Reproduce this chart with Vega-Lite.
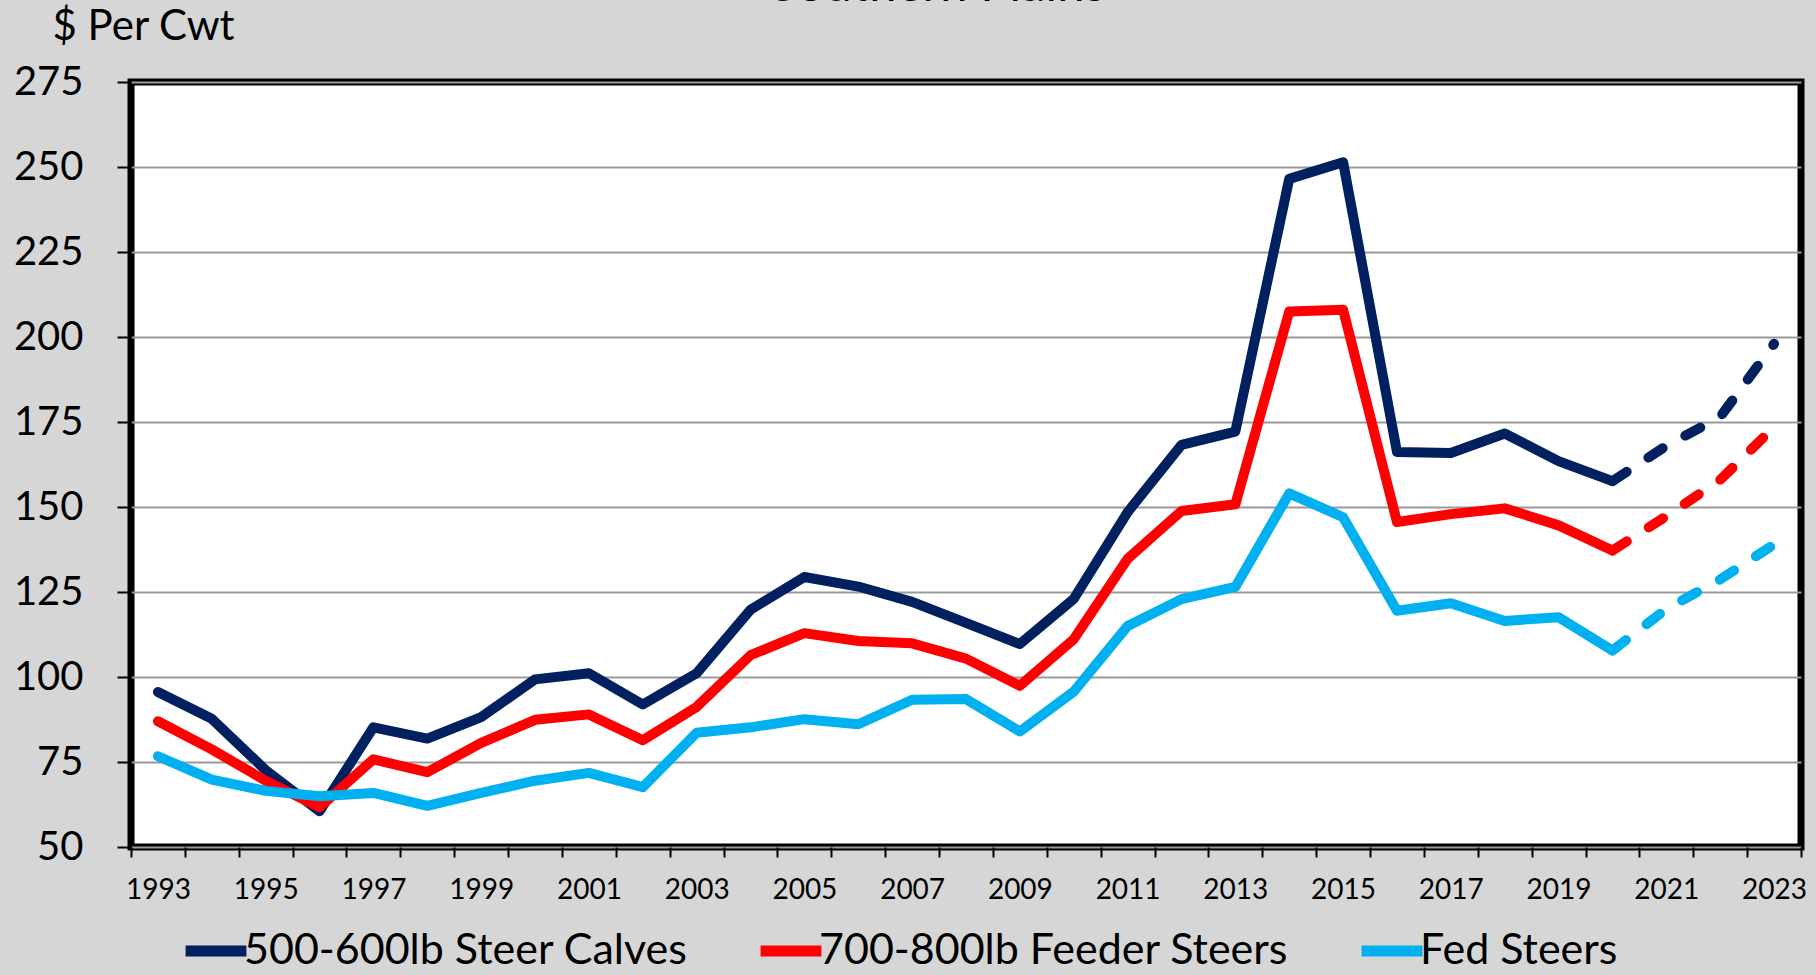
{
  "$schema": "https://vega.github.io/schema/vega-lite/v6.json",
  "width": 1670,
  "height": 765,
  "autosize": {"type": "none"},
  "padding": {"left": 131, "top": 82, "right": 15, "bottom": 128},
  "background": "#d6d6d6",
  "title": {"text": "Southern Plains", "font": "Lato", "fontSize": 49, "fontWeight": "normal", "color": "black", "anchor": "middle", "frame": "group", "baseline": "alphabetic", "offset": -45, "dx": -28},
  "config": {"view": {"stroke": "black", "strokeWidth": 7, "fill": "white"}, "font": "Lato"},
  "data": {"values": [
    {"year": 1993, "series": "500-600lb Steer Calves", "value": 95.6},
    {"year": 1994, "series": "500-600lb Steer Calves", "value": 87.7},
    {"year": 1995, "series": "500-600lb Steer Calves", "value": 72.6},
    {"year": 1996, "series": "500-600lb Steer Calves", "value": 60.5},
    {"year": 1997, "series": "500-600lb Steer Calves", "value": 85.2},
    {"year": 1998, "series": "500-600lb Steer Calves", "value": 81.9},
    {"year": 1999, "series": "500-600lb Steer Calves", "value": 88.2},
    {"year": 2000, "series": "500-600lb Steer Calves", "value": 99.3},
    {"year": 2001, "series": "500-600lb Steer Calves", "value": 101.1},
    {"year": 2002, "series": "500-600lb Steer Calves", "value": 91.9},
    {"year": 2003, "series": "500-600lb Steer Calves", "value": 101.1},
    {"year": 2004, "series": "500-600lb Steer Calves", "value": 119.8},
    {"year": 2005, "series": "500-600lb Steer Calves", "value": 129.4},
    {"year": 2006, "series": "500-600lb Steer Calves", "value": 126.6},
    {"year": 2007, "series": "500-600lb Steer Calves", "value": 122.1},
    {"year": 2008, "series": "500-600lb Steer Calves", "value": 115.9},
    {"year": 2009, "series": "500-600lb Steer Calves", "value": 109.7},
    {"year": 2010, "series": "500-600lb Steer Calves", "value": 123.0},
    {"year": 2011, "series": "500-600lb Steer Calves", "value": 148.5},
    {"year": 2012, "series": "500-600lb Steer Calves", "value": 168.3},
    {"year": 2013, "series": "500-600lb Steer Calves", "value": 172.2},
    {"year": 2014, "series": "500-600lb Steer Calves", "value": 246.5},
    {"year": 2015, "series": "500-600lb Steer Calves", "value": 251.4},
    {"year": 2016, "series": "500-600lb Steer Calves", "value": 166.2},
    {"year": 2017, "series": "500-600lb Steer Calves", "value": 165.9},
    {"year": 2018, "series": "500-600lb Steer Calves", "value": 171.6},
    {"year": 2019, "series": "500-600lb Steer Calves", "value": 163.5},
    {"year": 2020, "series": "500-600lb Steer Calves", "value": 157.6},
    {"year": 2021, "series": "500-600lb Steer Calves", "value": 168.0},
    {"year": 2022, "series": "500-600lb Steer Calves", "value": 176.5},
    {"year": 2023, "series": "500-600lb Steer Calves", "value": 198.0},
    {"year": 1993, "series": "700-800lb Feeder Steers", "value": 87.0},
    {"year": 1994, "series": "700-800lb Feeder Steers", "value": 78.7},
    {"year": 1995, "series": "700-800lb Feeder Steers", "value": 69.5},
    {"year": 1996, "series": "700-800lb Feeder Steers", "value": 61.7},
    {"year": 1997, "series": "700-800lb Feeder Steers", "value": 75.8},
    {"year": 1998, "series": "700-800lb Feeder Steers", "value": 72.0},
    {"year": 1999, "series": "700-800lb Feeder Steers", "value": 80.6},
    {"year": 2000, "series": "700-800lb Feeder Steers", "value": 87.4},
    {"year": 2001, "series": "700-800lb Feeder Steers", "value": 89.0},
    {"year": 2002, "series": "700-800lb Feeder Steers", "value": 81.4},
    {"year": 2003, "series": "700-800lb Feeder Steers", "value": 91.2},
    {"year": 2004, "series": "700-800lb Feeder Steers", "value": 106.4},
    {"year": 2005, "series": "700-800lb Feeder Steers", "value": 112.9},
    {"year": 2006, "series": "700-800lb Feeder Steers", "value": 110.6},
    {"year": 2007, "series": "700-800lb Feeder Steers", "value": 109.9},
    {"year": 2008, "series": "700-800lb Feeder Steers", "value": 105.4},
    {"year": 2009, "series": "700-800lb Feeder Steers", "value": 97.4},
    {"year": 2010, "series": "700-800lb Feeder Steers", "value": 111.1},
    {"year": 2011, "series": "700-800lb Feeder Steers", "value": 134.8},
    {"year": 2012, "series": "700-800lb Feeder Steers", "value": 148.8},
    {"year": 2013, "series": "700-800lb Feeder Steers", "value": 150.8},
    {"year": 2014, "series": "700-800lb Feeder Steers", "value": 207.5},
    {"year": 2015, "series": "700-800lb Feeder Steers", "value": 208.0},
    {"year": 2016, "series": "700-800lb Feeder Steers", "value": 145.6},
    {"year": 2017, "series": "700-800lb Feeder Steers", "value": 147.9},
    {"year": 2018, "series": "700-800lb Feeder Steers", "value": 149.6},
    {"year": 2019, "series": "700-800lb Feeder Steers", "value": 144.6},
    {"year": 2020, "series": "700-800lb Feeder Steers", "value": 137.2},
    {"year": 2021, "series": "700-800lb Feeder Steers", "value": 147.3},
    {"year": 2022, "series": "700-800lb Feeder Steers", "value": 158.0},
    {"year": 2023, "series": "700-800lb Feeder Steers", "value": 173.5},
    {"year": 1993, "series": "Fed Steers", "value": 76.7},
    {"year": 1994, "series": "Fed Steers", "value": 69.8},
    {"year": 1995, "series": "Fed Steers", "value": 66.5},
    {"year": 1996, "series": "Fed Steers", "value": 64.9},
    {"year": 1997, "series": "Fed Steers", "value": 65.9},
    {"year": 1998, "series": "Fed Steers", "value": 62.1},
    {"year": 1999, "series": "Fed Steers", "value": 65.9},
    {"year": 2000, "series": "Fed Steers", "value": 69.5},
    {"year": 2001, "series": "Fed Steers", "value": 71.8},
    {"year": 2002, "series": "Fed Steers", "value": 67.6},
    {"year": 2003, "series": "Fed Steers", "value": 83.6},
    {"year": 2004, "series": "Fed Steers", "value": 85.2},
    {"year": 2005, "series": "Fed Steers", "value": 87.6},
    {"year": 2006, "series": "Fed Steers", "value": 86.1},
    {"year": 2007, "series": "Fed Steers", "value": 93.3},
    {"year": 2008, "series": "Fed Steers", "value": 93.5},
    {"year": 2009, "series": "Fed Steers", "value": 84.0},
    {"year": 2010, "series": "Fed Steers", "value": 95.7},
    {"year": 2011, "series": "Fed Steers", "value": 115.0},
    {"year": 2012, "series": "Fed Steers", "value": 122.9},
    {"year": 2013, "series": "Fed Steers", "value": 126.5},
    {"year": 2014, "series": "Fed Steers", "value": 154.0},
    {"year": 2015, "series": "Fed Steers", "value": 147.0},
    {"year": 2016, "series": "Fed Steers", "value": 119.5},
    {"year": 2017, "series": "Fed Steers", "value": 121.7},
    {"year": 2018, "series": "Fed Steers", "value": 116.5},
    {"year": 2019, "series": "Fed Steers", "value": 117.6},
    {"year": 2020, "series": "Fed Steers", "value": 107.8},
    {"year": 2021, "series": "Fed Steers", "value": 120.0},
    {"year": 2022, "series": "Fed Steers", "value": 128.7},
    {"year": 2023, "series": "Fed Steers", "value": 139.0}
  ]},
  "encoding": {
    "y": {"field": "value", "type": "quantitative",
      "scale": {"domain": [50, 275], "nice": false, "zero": false},
      "axis": {"title": "$ Per Cwt", "titleAngle": 0, "titleX": -79, "titleY": -43, "titleAlign": "left", "titleBaseline": "alphabetic",
        "titleFont": "Lato", "titleFontSize": 42, "titleFontWeight": "normal", "titleColor": "black",
        "values": [50,75,100,125,150,175,200,225,250,275],
        "grid": true, "gridColor": "#9a9a9a", "gridWidth": 2, "domain": false,
        "tickColor": "black", "tickWidth": 2, "tickSize": 14,
        "labelFont": "Lato", "labelFontSize": 40, "labelColor": "black", "labelPadding": 34, "labelOverlap": false}},
    "color": {"field": "series", "type": "nominal",
      "scale": {"domain": ["500-600lb Steer Calves", "700-800lb Feeder Steers", "Fed Steers"], "range": ["#002060", "#FF0000", "#00B0F0"]},
      "legend": {"orient": "none", "legendX": 49, "legendY": 833, "direction": "horizontal", "title": null, "padding": 0,
        "symbolType": "stroke", "symbolStrokeWidth": 11, "symbolSize": 3700, "symbolOpacity": 1,
        "labelFont": "Lato", "labelFontSize": 43, "labelColor": "black", "labelLimit": 2000, "columnPadding": 50, "labelOffset": -8}}
  },
  "layer": [
    {"transform": [{"filter": "datum.year <= 2020"}],
     "mark": {"type": "line", "strokeWidth": 10, "strokeCap": "round", "strokeJoin": "round"},
     "encoding": {
       "x": {"field": "year", "type": "quantitative",
         "scale": {"domain": [1992.5, 2023.5], "nice": false, "zero": false},
         "axis": {"title": null, "orient": "bottom", "values": [1993,1995,1997,1999,2001,2003,2005,2007,2009,2011,2013,2015,2017,2019,2021,2023],
           "format": ".0f", "ticks": false, "grid": false, "domain": false,
           "labelFont": "Lato", "labelFontSize": 28, "labelColor": "black", "labelPadding": 29}}}},
    {"transform": [{"filter": "datum.year >= 2020"}],
     "mark": {"type": "line", "strokeWidth": 10, "strokeCap": "round", "strokeJoin": "round", "strokeDash": [17, 26]},
     "encoding": {
       "x": {"field": "year", "type": "quantitative",
         "scale": {"domain": [1992.5, 2023.5], "nice": false, "zero": false},
         "axis": {"title": null, "orient": "bottom", "values": [1992.5,1993.5,1994.5,1995.5,1996.5,1997.5,1998.5,1999.5,2000.5,2001.5,2002.5,2003.5,2004.5,2005.5,2006.5,2007.5,2008.5,2009.5,2010.5,2011.5,2012.5,2013.5,2014.5,2015.5,2016.5,2017.5,2018.5,2019.5,2020.5,2021.5,2022.5,2023.5],
           "labels": false, "grid": false, "domain": false, "tickColor": "black", "tickWidth": 2, "tickSize": 10}},
       "color": {"field": "series", "type": "nominal", "legend": null}}}
  ],
  "resolve": {"axis": {"x": "independent"}}
}
